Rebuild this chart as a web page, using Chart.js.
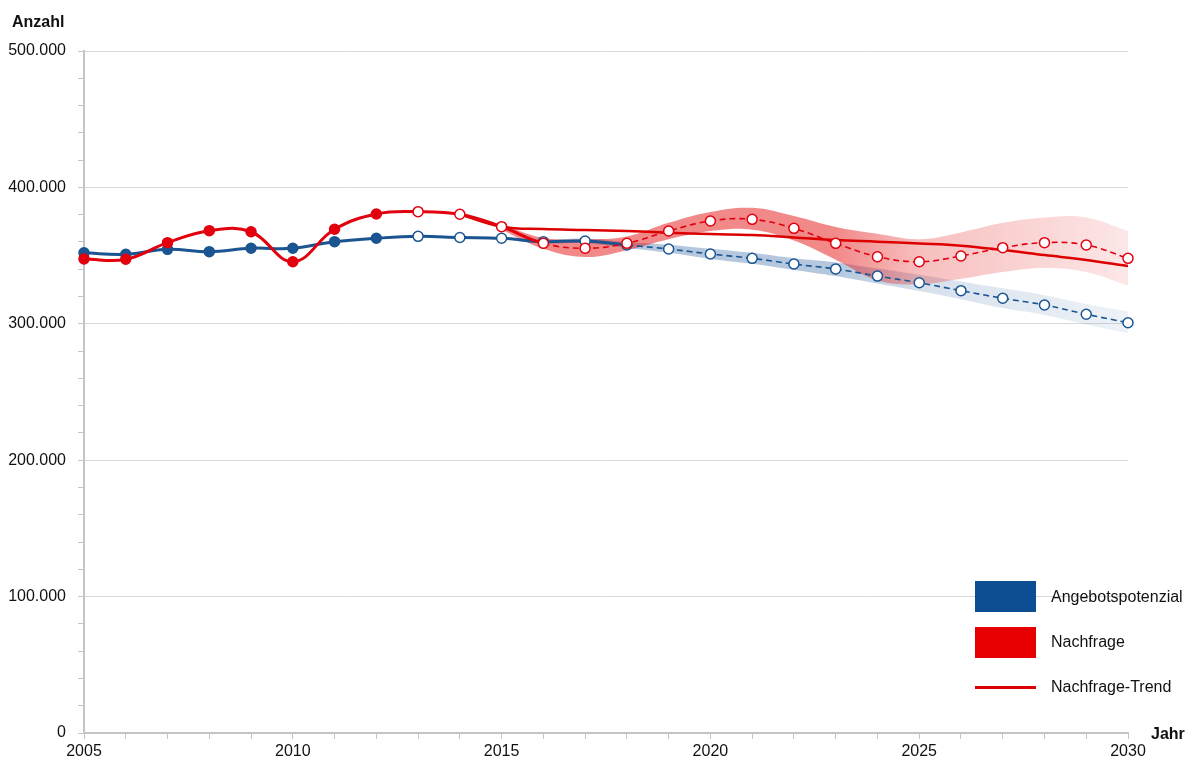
<!DOCTYPE html>
<html>
<head>
<meta charset="utf-8">
<script src="https://cdn.jsdelivr.net/npm/chart.js@4.4.1/dist/chart.umd.min.js"></script>
<style>
  body { margin: 0; background: #fff; font-family: "Liberation Sans", Arial, sans-serif; }
  #wrap { position: relative; width: 1196px; height: 765px; }
  .lbl { position: absolute; font-size: 16px; color: #111; height: 20px; line-height: 20px; white-space: nowrap; }
  .bold { font-weight: bold; font-size: 16px; }
  .box { position: absolute; }
</style>
</head>
<body>
<div id="wrap">
  <canvas id="myChart" width="1196" height="765"></canvas>
  <div class="lbl bold" style="left:12px; top:12px;">Anzahl</div>
  <div class="lbl bold" style="left:1151px; top:724px;">Jahr</div>
  <div class="box" style="left:975px; top:581px; width:61px; height:31px; background:#0c4e91;"></div>
  <div class="lbl" style="left:1051px; top:587px;">Angebotspotenzial</div>
  <div class="box" style="left:975px; top:627px; width:61px; height:31px; background:#e60000;"></div>
  <div class="lbl" style="left:1051px; top:632px;">Nachfrage</div>
  <div class="box" style="left:975px; top:686px; width:61px; height:3px; background:#dd0000;"></div>
  <div class="lbl" style="left:1051px; top:677px;">Nachfrage-Trend</div>
</div>
<script>
// Daten
const jahre = [2005, 2006, 2007, 2008, 2009, 2010, 2011, 2012, 2013, 2014, 2015, 2016, 2017,
  2018, 2019, 2020, 2021, 2022, 2023, 2024, 2025, 2026, 2027, 2028, 2029, 2030];

const angebot = [352000, 351000, 354600, 352900, 355400, 355400, 360200, 362700, 364100, 363300,
  362700, 360200, 360700, 357800, 354800, 351200, 348000, 343800, 340200, 335000, 330100, 324300,
  318700, 313800, 307000, 300800];

const nachfrage = [347500, 347300, 359500, 368300, 367500, 345500, 369300, 380500, 382200, 380300,
  371200, 359000, 355400, 359000, 368000, 375400, 376600, 370000, 359000, 349200, 345500, 349700,
  355800, 359500, 357800, 348000];

const trend = [null, null, null, null, null, null, null, null, null, 380300,
  371200, 369500, 368800, 368000, 366800, 365800, 365100, 363300, 361400, 360200, 358900, 357300,
  354100, 350400, 346800, 342400];

// Schwankungsbereiche
const nachfrageOben = [null, null, null, null, null, null, null, null, null, null,
  373000, 363000, 362000, 364000, 374000, 382000, 385000, 379000, 371000, 366000, 362000, 367000,
  374000, 378000, 378000, 368000];
const nachfrageUnten = [null, null, null, null, null, null, null, null, null, null,
  369000, 355000, 349000, 354000, 362000, 368000, 369000, 361000, 347000, 332000, 329000, 333000,
  338000, 341000, 338000, 328000];
const angebotOben = [null, null, null, null, null, null, null, null, null, null,
  363000, 361500, 362500, 360000, 358000, 355000, 352000, 348000, 345000, 340500, 336000, 331000,
  326000, 321000, 314500, 309000];
const angebotUnten = [null, null, null, null, null, null, null, null, null, null,
  362400, 359000, 359000, 355500, 352000, 347500, 344000, 339500, 335000, 329500, 324000, 318000,
  311500, 306500, 299500, 293000];

const blau = '#1a5591';
const rot = '#e2000f';

function bandFarbe(rgb, stark, schwach) {
  return function (context) {
    const chart = context.chart;
    const area = chart.chartArea;
    if (!area) return 'rgba(' + rgb + ',' + stark + ')';
    const x = chart.scales.x;
    const w = area.right - area.left;
    const pos = j => Math.min(1, Math.max(0, (x.getPixelForValue(jahre.indexOf(j)) - area.left) / w));
    const g = chart.ctx.createLinearGradient(area.left, 0, area.right, 0);
    g.addColorStop(0, 'rgba(' + rgb + ',' + stark + ')');
    g.addColorStop(pos(2023), 'rgba(' + rgb + ',' + stark + ')');
    g.addColorStop(pos(2025), 'rgba(' + rgb + ',' + (stark * 0.55) + ')');
    g.addColorStop(1, 'rgba(' + rgb + ',' + schwach + ')');
    return g;
  };
}

function fmt(v) {
  return String(v).replace(/\B(?=(\d{3})+(?!\d))/g, '.');
}

const ctx = document.getElementById('myChart');
new Chart(ctx, {
  type: 'line',
  data: {
    labels: jahre,
    datasets: [
      {
        label: 'Nachfrage',
        data: nachfrage,
        borderColor: rot,
        borderWidth: 3,
        tension: 0.4,
        pointRadius: 5,
        pointBorderWidth: 1.5,
        pointBorderColor: rot,
        pointBackgroundColor: c => c.dataIndex < 8 ? rot : '#ffffff',
        segment: {
          borderDash: c => c.p0DataIndex >= 11 ? [6, 4] : undefined,
          borderWidth: c => c.p0DataIndex >= 11 ? 1.6 : 3
        },
        order: 1
      },
      {
        label: 'Nachfrage-Trend',
        data: trend,
        borderColor: '#dd0000',
        borderWidth: 2.5,
        tension: 0.4,
        pointRadius: 0,
        order: 3
      },
      {
        label: 'Angebotspotenzial',
        data: angebot,
        borderColor: blau,
        borderWidth: 3,
        tension: 0.4,
        pointRadius: 5,
        pointBorderWidth: 1.5,
        pointBorderColor: blau,
        pointBackgroundColor: c => c.dataIndex < 8 ? blau : '#ffffff',
        segment: {
          borderDash: c => c.p0DataIndex >= 13 ? [6, 4] : undefined,
          borderWidth: c => c.p0DataIndex >= 13 ? 1.6 : 3
        },
        order: 2
      },
      {
        label: 'nachfrageOben',
        data: nachfrageOben,
        borderWidth: 0,
        pointRadius: 0,
        tension: 0.4,
        fill: false,
        order: 5
      },
      {
        label: 'nachfrageUnten',
        data: nachfrageUnten,
        borderWidth: 0,
        pointRadius: 0,
        tension: 0.4,
        fill: '-1',
        backgroundColor: bandFarbe('228,20,20', 0.5, 0.1),
        order: 5
      },
      {
        label: 'angebotOben',
        data: angebotOben,
        borderWidth: 0,
        pointRadius: 0,
        tension: 0.4,
        fill: false,
        order: 6
      },
      {
        label: 'angebotUnten',
        data: angebotUnten,
        borderWidth: 0,
        pointRadius: 0,
        tension: 0.4,
        fill: '-1',
        backgroundColor: bandFarbe('40,95,160', 0.35, 0.08),
        order: 6
      }
    ]
  },
  options: {
    responsive: false,
    animation: false,
    devicePixelRatio: 1,
    layout: { padding: { top: 51, right: 68, left: 0, bottom: 0 } },
    plugins: {
      legend: { display: false },
      tooltip: { enabled: false }
    },
    scales: {
      x: {
        offset: false,
        afterFit: s => { s.height = 32; },
        grid: { drawOnChartArea: false, drawTicks: true, tickLength: 6, color: '#c4c4c4' },
        border: { color: '#c4c4c4', width: 2 },
        ticks: {
          autoSkip: false,
          maxRotation: 0,
          padding: 3,
          color: '#111',
          font: { family: '"Liberation Sans", Arial, sans-serif', size: 16 },
          callback: function (v) {
            const j = jahre[v];
            return j % 5 === 0 ? String(j) : '';
          }
        }
      },
      y: {
        min: 0,
        max: 500000,
        afterFit: s => { s.width = 84; },
        grid: {
          color: c => (c.tick && c.tick.value % 100000 === 0) ? '#d9d9d9' : 'rgba(0,0,0,0)',
          tickColor: '#c4c4c4',
          tickLength: 6,
          lineWidth: 1
        },
        border: { color: '#c4c4c4', width: 2 },
        ticks: {
          stepSize: 20000,
          autoSkip: false,
          padding: 12,
          color: '#111',
          font: { family: '"Liberation Sans", Arial, sans-serif', size: 16 },
          callback: v => v % 100000 === 0 ? fmt(v) : ''
        }
      }
    }
  }
});
</script>
</body>
</html>
